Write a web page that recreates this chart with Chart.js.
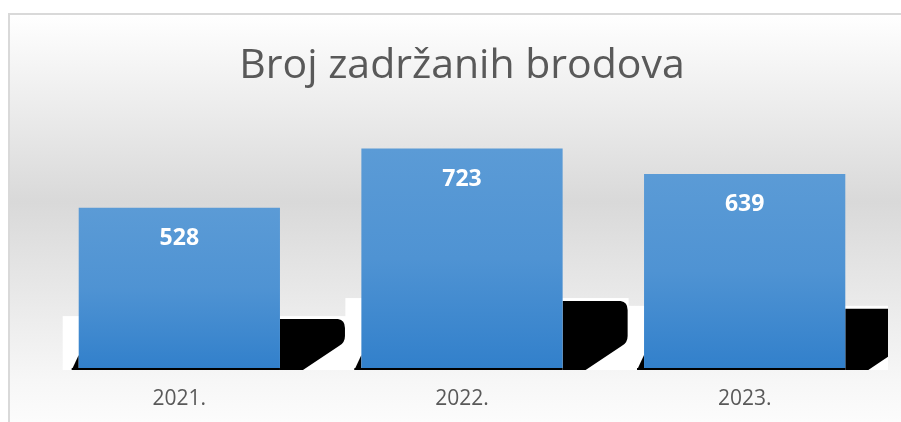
<!DOCTYPE html>
<html>
<head>
<meta charset="utf-8">
<script src="https://cdn.jsdelivr.net/npm/chart.js@4"></script>
<style>
  html,body{margin:0;padding:0;background:#fff;}
  #c{display:block;}
</style>
</head>
<body>
<canvas id="c" width="901" height="422"></canvas>
<script>
  const TITLE = 'Broj zadržanih brodova';
  const YEARS = ['2021.', '2022.', '2023.'];
  const DETAINED = [528, 723, 639];
  const Y_MAX = 800;

  // frame + soft grey gradient behind the whole chart
  const backdrop = {
    id: 'backdrop',
    beforeDraw(chart){
      const c = chart.ctx, w = chart.width, h = chart.height;
      c.save();
      c.fillStyle = '#fff';
      c.fillRect(0, 0, w, h);
      const g = c.createLinearGradient(0, 14, 0, h);
      g.addColorStop(0, '#ffffff');
      g.addColorStop(0.46, '#d9d9d9');
      g.addColorStop(0.9, '#f7f7f7');
      g.addColorStop(1, '#fcfcfc');
      c.fillStyle = g;
      c.fillRect(9, 14, w - 9, h - 14);
      c.strokeStyle = '#d9d9d9';
      c.lineWidth = 2;
      c.beginPath();
      c.moveTo(9, h); c.lineTo(9, 14); c.lineTo(w, 14);
      c.stroke();
      c.restore();
    }
  };

  // the odd white/black "shadow" blocks that sit behind each bar
  const shadows = {
    id: 'shadows',
    beforeDatasetsDraw(chart){
      const c = chart.ctx, area = chart.chartArea;
      const bars = chart.getDatasetMeta(0).data;
      const base = chart.scales.y.getPixelForValue(0);
      c.save();
      c.beginPath();
      c.rect(0, 0, area.right + 2, chart.height);
      c.clip();
      bars.forEach(b => {
        const left = b.x - b.width / 2, right = b.x + b.width / 2;
        const top = base - (base - b.y) * 0.305;
        c.fillStyle = '#fff';
        c.fillRect(left - 16, top - 3, right + 66 - (left - 16), base + 2 - (top - 3));
      });
      c.fillStyle = '#000';
      bars.forEach(b => {
        const left = b.x - b.width / 2, right = b.x + b.width / 2;
        const top = base - (base - b.y) * 0.305;
        c.beginPath();
        c.moveTo(right, top);
        c.lineTo(right + 58, top);
        c.quadraticCurveTo(right + 65, top + 1, right + 65, top + 9);
        c.lineTo(right + 65, base - 32);
        c.quadraticCurveTo(right + 65, base - 25, right + 59, base - 22);
        c.lineTo(right + 23, base + 2);
        c.lineTo(right, base + 2);
        c.closePath();
        c.fill();
        c.beginPath();
        c.moveTo(left - 7, base + 2);
        c.lineTo(left, base - 13);
        c.lineTo(left, base + 2);
        c.closePath();
        c.fill();
        c.fillRect(left - 7, base, b.width + 7, 2);
      });
      c.restore();
    },
    afterDatasetsDraw(chart){
      const c = chart.ctx;
      const ds = chart.data.datasets[0];
      c.save();
      c.fillStyle = '#ffffff';
      c.font = 'bold 23px "Open Sans"';
      c.textAlign = 'center';
      c.textBaseline = 'middle';
      chart.getDatasetMeta(0).data.forEach((b, i) => {
        c.fillText(String(ds.data[i]), b.x, b.y + 30.7);
      });
      c.restore();
    }
  };

  function barFill(ctx){
    const chart = ctx.chart;
    if(!chart.chartArea) return '#4a90d0';
    const y = chart.scales.y;
    const top = y.getPixelForValue(ctx.raw), bot = y.getPixelForValue(0);
    const g = chart.ctx.createLinearGradient(0, top, 0, bot);
    g.addColorStop(0, '#5b9bd6');
    g.addColorStop(0.5, '#4f93d3');
    g.addColorStop(1, '#3280cb');
    return g;
  }

  new Chart(document.getElementById('c'), {
    type: 'bar',
    data: {
      labels: YEARS,
      datasets: [{ data: DETAINED, backgroundColor: barFill, borderWidth: 0,
        barPercentage: 1, categoryPercentage: 0.712 }]
    },
    options: {
      responsive: false, devicePixelRatio: 1, animation: false,
      layout: { padding: { left: 38, right: 15, top: 0, bottom: 0 } },
      plugins: {
        legend: { display: false },
        tooltip: { enabled: false },
        title: {
          display: true, text: TITLE, color: '#595959',
          font: { family: '"Open Sans"', size: 41, weight: 'normal', lineHeight: 1.2 },
          padding: { top: 42, bottom: 34 }
        }
      },
      scales: {
        x: {
          grid: { display: false, drawTicks: false },
          border: { display: false },
          ticks: { color: '#595959', padding: 18, font: { family: '"Open Sans"', size: 21, lineHeight: 1.2 } },
          afterFit: s => { s.height = 54; }
        },
        y: { display: false, min: 0, max: Y_MAX }
      }
    },
    plugins: [backdrop, shadows]
  });
</script>
</body>
</html>
